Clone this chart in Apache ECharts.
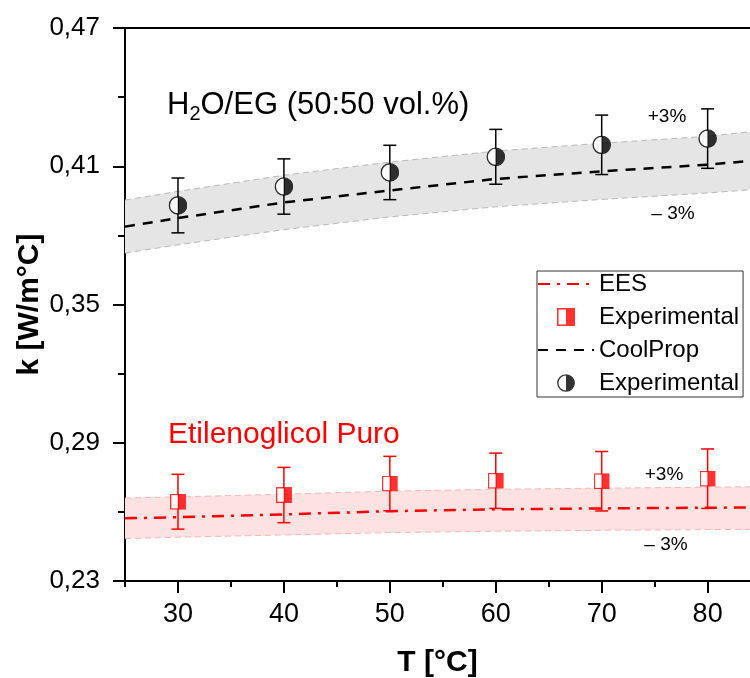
<!DOCTYPE html>
<html>
<head>
<meta charset="utf-8">
<script src="https://cdn.jsdelivr.net/npm/echarts@6/dist/echarts.min.js"></script>
<style>
  html, body { margin: 0; padding: 0; background: #fff; }
  #main { width: 750px; height: 678px; }
</style>
</head>
<body>
<div id="main"></div>
<script>
// temperatura [°C] dos pontos experimentais
const temps = [30, 40, 50, 60, 70, 80]
// H2O/EG 50:50 experimental + barra de erro
const kMix = [0.3930, 0.4012, 0.4073, 0.4141, 0.4193, 0.4220]
const errMix = [0.0119, 0.0120, 0.0118, 0.0119, 0.0129, 0.0129]
// etilenoglicol puro experimental + barra de erro
const kEG = [0.2644, 0.2673, 0.2723, 0.2735, 0.2733, 0.2744]
const errEG = [0.0119, 0.0120, 0.0118, 0.0120, 0.0129, 0.0129]

// curvas de referencia (CoolProp / EES) e faixas de +-3%
const tLine = [25, 30, 40, 50, 60, 70, 80, 84]
const coolProp = [0.3838, 0.3875, 0.3943, 0.3995, 0.4045, 0.4078, 0.4107, 0.4123]
const coolUp = [0.3953, 0.3991, 0.4061, 0.4118, 0.4166, 0.4200, 0.4230, 0.4250]
const coolDown = [0.3723, 0.3759, 0.3825, 0.3880, 0.3924, 0.3956, 0.3984, 0.3998]
const ees = [0.2572, 0.2577, 0.2589, 0.2603, 0.2611, 0.2615, 0.2618, 0.2619]
const eesUp = [0.2660, 0.2665, 0.2677, 0.2690, 0.2698, 0.2703, 0.2707, 0.2709]
const eesDown = [0.2484, 0.2490, 0.2500, 0.2510, 0.2516, 0.2520, 0.2523, 0.2524]

// ticks
const xLabels = [30, 40, 50, 60, 70, 80]
const xMinor = [25, 35, 45, 55, 65, 75]
const yLabels = [0.23, 0.29, 0.35, 0.41, 0.47]
const yMinor = [0.26, 0.32, 0.38, 0.44]

const FONT = '"Liberation Sans", Arial, sans-serif'

// simbolos meio cheios
const circleSvg = '<svg xmlns="http://www.w3.org/2000/svg" width="40" height="40" viewBox="0 0 20 20">' +
  '<circle cx="10" cy="10" r="9.1" fill="#fff" stroke="#000" stroke-width="1.5"/>' +
  '<path d="M10,0.9 A9.1,9.1 0 0 1 10,19.1 Z" fill="#000"/></svg>'
const squareSvg = '<svg xmlns="http://www.w3.org/2000/svg" width="32" height="32" viewBox="0 0 16 16">' +
  '<rect x="0.7" y="0.7" width="14.6" height="14.6" fill="#fff" stroke="#f00" stroke-width="1.4"/>' +
  '<rect x="8" y="0.7" width="7.3" height="14.6" fill="#f00"/></svg>'
const circleIcon = 'image://data:image/svg+xml;charset=utf-8,' + encodeURIComponent(circleSvg)
const squareIcon = 'image://data:image/svg+xml;charset=utf-8,' + encodeURIComponent(squareSvg)

const zip = (a, b) => a.map((v, i) => [v, b[i]])

function bandSeries(up, down, fill, z) {
  return {
    type: 'custom',
    silent: true,
    z: z,
    data: [[tLine[0], up[0]]],
    renderItem: (params, api) => {
      let pts = []
      tLine.forEach((t, i) => pts.push(api.coord([t, up[i]])))
      for (let i = tLine.length - 1; i >= 0; i--) pts.push(api.coord([tLine[i], down[i]]))
      return { type: 'polygon', shape: { points: pts }, style: { fill: fill } }
    }
  }
}

function edgeSeries(vals, color) {
  return {
    type: 'line',
    silent: true,
    symbol: 'none',
    z: 3,
    data: zip(tLine, vals),
    lineStyle: { color: color, width: 1, type: [6, 4] }
  }
}

function errorSeries(ys, errs, color) {
  return {
    type: 'custom',
    silent: true,
    z: 6,
    data: temps.map((t, i) => [t, ys[i], errs[i]]),
    renderItem: (params, api) => {
      let x = api.value(0), y = api.value(1), e = api.value(2)
      let top = api.coord([x, y + e])
      let bot = api.coord([x, y - e])
      let w = 6.5
      let st = { stroke: color, lineWidth: 1.5 }
      return {
        type: 'group',
        children: [
          { type: 'line', shape: { x1: top[0], y1: top[1], x2: bot[0], y2: bot[1] }, style: st },
          { type: 'line', shape: { x1: top[0] - w, y1: top[1], x2: top[0] + w, y2: top[1] }, style: st },
          { type: 'line', shape: { x1: bot[0] - w, y1: bot[1], x2: bot[0] + w, y2: bot[1] }, style: st }
        ]
      }
    }
  }
}

const chart = echarts.init(document.getElementById('main'))

const labelNames = { 'EES': 'EES', 'ExpEG': 'Experimental', 'CoolProp': 'CoolProp', 'ExpMix': 'Experimental' }

const option = {
  animation: false,
  backgroundColor: '#fff',
  textStyle: { fontFamily: FONT },
  grid: { left: 125, right: 0, top: 28, bottom: 97, containLabel: false, outerBoundsMode: 'none' },
  legend: {
    orient: 'vertical',
    left: 537,
    top: 271,
    padding: [1, 4, 2, 0],
    itemGap: 9,
    itemWidth: 56,
    itemHeight: 18,
    borderColor: '#333',
    borderWidth: 1,
    backgroundColor: '#fff',
    selectedMode: false,
    textStyle: { fontSize: 24, color: '#000', fontFamily: FONT },
    formatter: name => labelNames[name],
    data: [
      { name: 'EES', itemStyle: { opacity: 0 } },
      { name: 'ExpEG', icon: squareIcon },
      { name: 'CoolProp', itemStyle: { opacity: 0 } },
      { name: 'ExpMix', icon: circleIcon }
    ]
  },
  xAxis: [
    {
      type: 'value',
      min: 25,
      max: 84,
      name: 'T [°C]',
      nameLocation: 'middle',
      nameGap: 67,
      nameMoveOverlap: false,
      nameTextStyle: { fontSize: 30, fontWeight: 'bold', color: '#000', fontFamily: FONT },
      axisLine: { show: true, lineStyle: { color: '#000', width: 2 } },
      axisTick: { show: true, length: 12, lineStyle: { color: '#000', width: 2 }, customValues: xLabels },
      axisLabel: { fontSize: 27, color: '#000', margin: 20, customValues: xLabels },
      splitLine: { show: false }
    },
    {
      type: 'value',
      min: 25,
      max: 84,
      position: 'bottom',
      axisLine: { show: false },
      axisTick: { show: true, length: 6, lineStyle: { color: '#000', width: 2 }, customValues: xMinor },
      axisLabel: { show: false },
      splitLine: { show: false }
    },
    {
      type: 'value',
      min: 25,
      max: 84,
      position: 'top',
      axisLine: { show: true, onZero: false, lineStyle: { color: '#000', width: 2 } },
      axisTick: { show: false },
      axisLabel: { show: false },
      splitLine: { show: false }
    }
  ],
  yAxis: [
    {
      type: 'value',
      min: 0.23,
      max: 0.47,
      name: 'k [W/m°C]',
      nameLocation: 'middle',
      nameGap: 80,
      nameMoveOverlap: false,
      nameTextStyle: { fontSize: 30, fontWeight: 'bold', color: '#000', fontFamily: FONT },
      axisLine: { show: true, lineStyle: { color: '#000', width: 2 } },
      axisTick: { show: true, length: 12, lineStyle: { color: '#000', width: 2 }, customValues: yLabels },
      axisLabel: {
        fontSize: 26, color: '#000', margin: 25, customValues: yLabels,
        formatter: v => v.toFixed(2).replace('.', ',')
      },
      splitLine: { show: false }
    },
    {
      type: 'value',
      min: 0.23,
      max: 0.47,
      position: 'left',
      axisLine: { show: false },
      axisTick: { show: true, length: 7, lineStyle: { color: '#000', width: 2 }, customValues: yMinor },
      axisLabel: { show: false },
      splitLine: { show: false }
    }
  ],
  graphic: [
    {
      type: 'text', left: 167, top: 87, z: 100,
      style: {
        text: '{a|H}{s|2}{a|O/EG (50:50 vol.%)}',
        rich: {
          a: { fontSize: 31, fontFamily: FONT, fill: '#000', color: '#000', lineHeight: 36 },
          s: { fontSize: 20, fontFamily: FONT, fill: '#000', color: '#000', lineHeight: 36, padding: [17, 0, 0, 0] }
        }
      }
    },
    {
      type: 'text', left: 168, top: 420, z: 100,
      style: { text: 'Etilenoglicol Puro', font: '30px ' + FONT, fill: '#ff0000' }
    },
    { type: 'text', x: 667, y: 117, z: 100, style: { text: '+3%', font: '19px ' + FONT, fill: '#000', align: 'center', verticalAlign: 'middle' } },
    { type: 'text', x: 673, y: 214, z: 100, style: { text: '– 3%', font: '19px ' + FONT, fill: '#000', align: 'center', verticalAlign: 'middle' } },
    { type: 'text', x: 664, y: 475, z: 100, style: { text: '+3%', font: '19px ' + FONT, fill: '#000', align: 'center', verticalAlign: 'middle' } },
    { type: 'text', x: 666, y: 545, z: 100, style: { text: '– 3%', font: '19px ' + FONT, fill: '#000', align: 'center', verticalAlign: 'middle' } }
  ],
  series: [
    bandSeries(coolUp, coolDown, '#e5e5e5', 1),
    bandSeries(eesUp, eesDown, '#fde2e2', 1),
    edgeSeries(coolUp, '#b8b8b8'),
    edgeSeries(coolDown, '#b8b8b8'),
    edgeSeries(eesUp, '#f8b4b4'),
    edgeSeries(eesDown, '#f8b4b4'),
    {
      name: 'EES',
      type: 'line',
      symbol: 'none',
      z: 5,
      data: zip(tLine, ees),
      lineStyle: { color: '#ff0000', width: 2.5, type: [12, 7, 3, 7] },
      itemStyle: { color: 'rgba(0,0,0,0)' }
    },
    {
      name: 'CoolProp',
      type: 'line',
      symbol: 'none',
      z: 5,
      data: zip(tLine, coolProp),
      lineStyle: { color: '#000', width: 2.5, type: [10, 8] },
      itemStyle: { color: 'rgba(0,0,0,0)' }
    },
    errorSeries(kEG, errEG, '#ff0000'),
    errorSeries(kMix, errMix, '#000'),
    {
      name: 'ExpEG',
      type: 'scatter',
      z: 8,
      symbol: squareIcon,
      symbolSize: 16,
      data: zip(temps, kEG)
    },
    {
      name: 'ExpMix',
      type: 'scatter',
      z: 8,
      symbol: circleIcon,
      symbolSize: 19,
      data: zip(temps, kMix)
    }
  ]
}

chart.setOption(option)
</script>
</body>
</html>
